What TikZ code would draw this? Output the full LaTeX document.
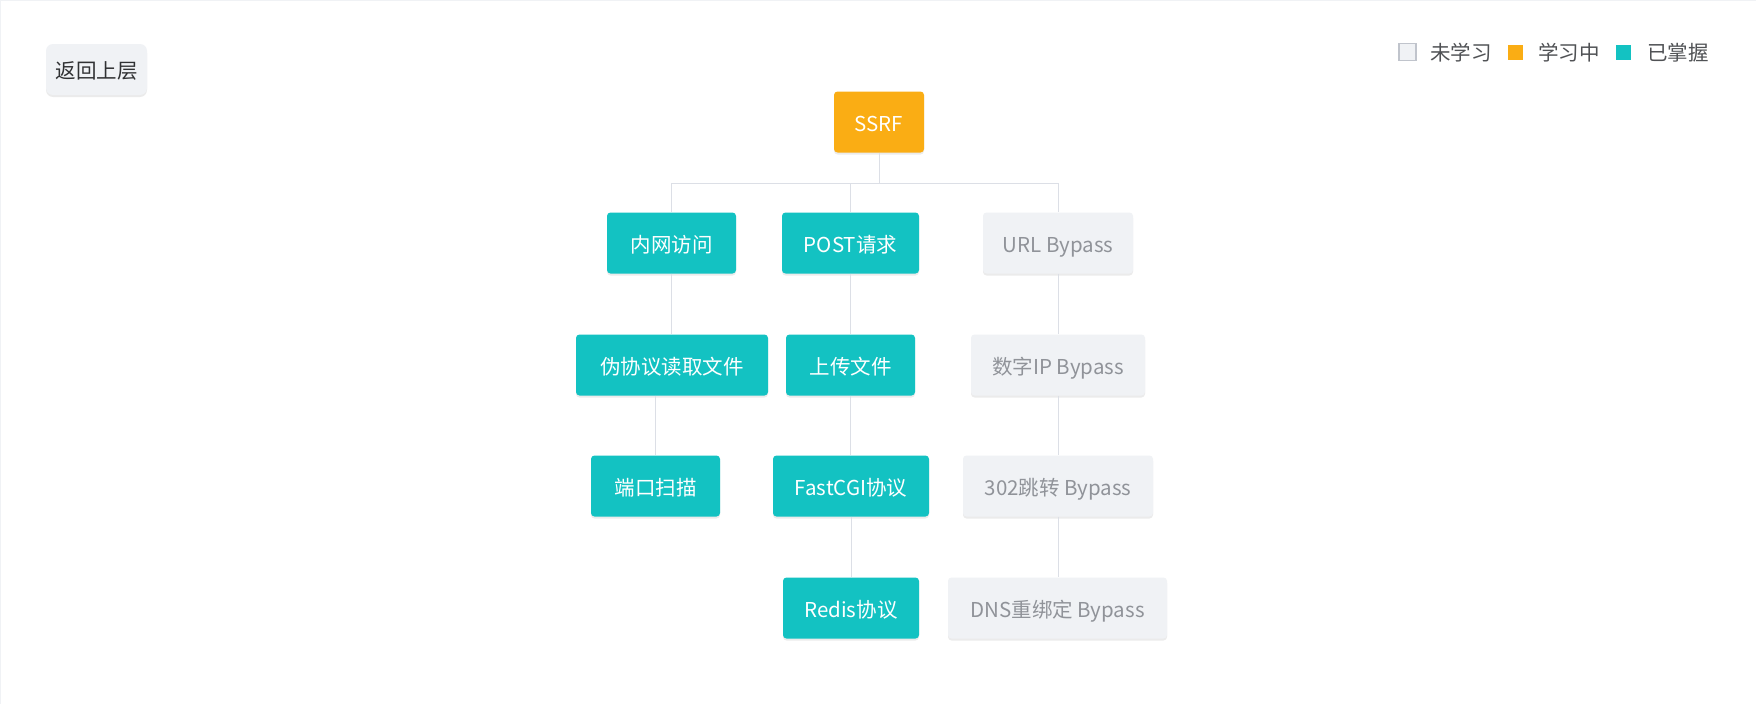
\documentclass[tikz,border=0pt]{standalone}
\usepackage{fontspec}
\setmainfont{Noto Sans CJK SC}
\usetikzlibrary{shadows}
\definecolor{teal1}{HTML}{13C2C2}
\definecolor{gold1}{HTML}{FAAD14}
\definecolor{gray1}{HTML}{F0F2F5}
\definecolor{grayline}{HTML}{DCDFE6}
\definecolor{graytext}{HTML}{909399}
\definecolor{darktext}{HTML}{303133}
\definecolor{legtext}{HTML}{505255}
\definecolor{legborder}{HTML}{C0C4CC}
\begin{document}
\begin{tikzpicture}[x=1pt,y=-1pt,
  every node/.style={font=\fontsize{20.5}{24}\selectfont},
  card/.style={rectangle, rounded corners=3.5pt, minimum height=61pt, inner sep=0pt,
    text height=18pt, text depth=0pt,
    drop shadow={shadow xshift=0pt, shadow yshift=-2pt, opacity=0.08, fill=black}},
  done/.style={card, fill=teal1, text=white},
  doing/.style={card, fill=gold1, text=white},
  todo/.style={card, fill=gray1, text=graytext},
  link/.style={draw=grayline, line width=1pt},
  legtxt/.style={anchor=west, inner sep=0pt, text=legtext, text height=16pt, text depth=0pt}
]
\path[use as bounding box, fill=white] (0,0) rectangle (1756,704);
\draw[draw=gray1, line width=2pt] (0,704) -- (0,0) -- (1756,0);

% back button
\node[rectangle, rounded corners=7pt, fill=gray1, text=darktext, minimum width=101pt, minimum height=51pt, inner sep=0pt,
  text height=17pt, text depth=0pt,
  drop shadow={shadow xshift=0pt, shadow yshift=-2pt, opacity=0.08, fill=black}] (back) at (96.5,69.5) {返回上层};

% legend
\node[rectangle, draw=legborder, line width=1.5pt, fill=gray1, minimum size=17pt, inner sep=0pt] (lg1) at (1407.5,52) {};
\node[legtxt] (lt1) at (1430,52) {未学习};
\node[rectangle, fill=gold1, minimum size=15pt, inner sep=0pt] (lg2) at (1515.5,52.5) {};
\node[legtxt] (lt2) at (1538,52) {学习中};
\node[rectangle, fill=teal1, minimum size=15pt, inner sep=0pt] (lg3) at (1623.5,52.5) {};
\node[legtxt] (lt3) at (1647,52) {已掌握};

% tree
\node[doing, minimum width=90pt] (ssrf) at (879,122) {SSRF};

\node[done, minimum width=129pt] (nw) at (671.5,243) {内网访问};
\node[done, minimum width=137pt] (post) at (850.5,243) {POST请求};
\node[todo, minimum width=150pt] (url) at (1058,243) {URL Bypass};

\node[done, minimum width=192pt] (wj) at (672,365) {伪协议读取文件};
\node[done, minimum width=129pt] (sc) at (850.5,365) {上传文件};
\node[todo, minimum width=174pt] (ip) at (1058,365) {数字IP Bypass};

\node[done, minimum width=129pt] (dk) at (655.5,486) {端口扫描};
\node[done, minimum width=156pt] (fc) at (851,486) {FastCGI协议};
\node[todo, minimum width=190pt] (jz) at (1058,486) {302跳转 Bypass};

\node[done, minimum width=136pt] (rd) at (851,608) {Redis协议};
\node[todo, minimum width=219pt] (dns) at (1057.5,608) {DNS重绑定 Bypass};

\coordinate (hub) at (879,183);
\draw[link] (ssrf.south) -- (hub);
\draw[link] (hub) -| (nw.north);
\draw[link] (hub) -| (post.north);
\draw[link] (hub) -| (url.north);

\draw[link] (nw.south) -- (nw.south |- wj.north);
\draw[link] (dk.north |- wj.south) -- (dk.north);

\draw[link] (post.south) -- (post.south |- sc.north);
\draw[link] (sc.south) -- (sc.south |- fc.north);
\draw[link] (fc.south) -- (fc.south |- rd.north);

\draw[link] (url.south) -- (url.south |- ip.north);
\draw[link] (ip.south) -- (ip.south |- jz.north);
\draw[link] (jz.south) -- (jz.south |- dns.north);
\end{tikzpicture}
\end{document}
